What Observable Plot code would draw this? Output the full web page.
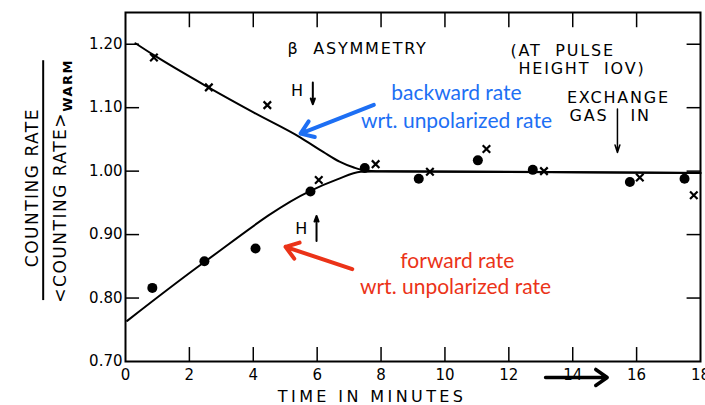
<!DOCTYPE html>
<html><head><meta charset="utf-8">
<script src="https://cdn.jsdelivr.net/npm/d3@7"></script>
<script src="https://cdn.jsdelivr.net/npm/@observablehq/plot@0.6"></script>
<style>
html,body{margin:0;padding:0;background:#fff;}
g[aria-description="lettering"] text{letter-spacing:1.8px;white-space:pre;}
g[aria-description="xtitle"] text{letter-spacing:3.4px;white-space:pre;}
g[aria-description="ytitle"] text{letter-spacing:1.5px;white-space:pre;}
</style>
</head><body><div id="chart"></div>
<script>
// ---- data ----
const xTicks = [0, 2, 4, 6, 8, 10, 12, 14, 16, 18];
const yTicks = [0.70, 0.80, 0.90, 1.00, 1.10, 1.20];

// backward rate points (x markers)
const backwardTime = [0.89, 2.61, 4.44, 6.05, 7.83, 9.53, 11.30, 13.10, 16.10, 17.79];
const backwardRate = [1.179, 1.132, 1.104, 0.986, 1.011, 0.999, 1.035, 1.000, 0.990, 0.962];

// forward rate points (filled dots)
const forwardTime = [0.84, 2.47, 4.07, 5.79, 7.49, 9.18, 11.03, 12.75, 15.79, 17.50];
const forwardRate = [0.816, 0.858, 0.878, 0.968, 1.005, 0.988, 1.017, 1.002, 0.983, 0.988];

// hand-drawn curves
const backwardCurveTime = [0.31, 0.89, 2.61, 4.02, 5.48, 6.2, 6.7, 7.15, 7.57, 8.2, 18];
const backwardCurveRate = [1.2016, 1.1827, 1.1316, 1.0922, 1.0529, 1.030, 1.015, 1.0057, 1.0005, 0.9995, 0.997];
const forwardCurveTime = [0.05, 2.45, 5.79, 6.63, 7.36, 8.19, 18];
const forwardCurveRate = [0.764, 0.856, 0.969, 0.987, 0.999, 1.0, 0.997];

// annotations (data units)
const letteringText = ["β  ASYMMETRY", "(AT  PULSE", "HEIGHT  IOV)", "EXCHANGE", "GAS", "IN", "H", "H"];
const letteringX = [5.07, 12.05, 12.30, 15.43, 15.12, 15.81, 5.40, 5.53];
const letteringY = [1.1926, 1.189, 1.161, 1.1153, 1.087, 1.087, 1.1264, 0.9086];
const letteringAnchor = ["start", "start", "start", "middle", "end", "start", "middle", "middle"];

const blueText = ["backward rate", "wrt. unpolarized rate"];
const blueX = [10.36, 10.36];
const blueY = [1.1222, 1.0792];
const redText = ["forward rate", "wrt. unpolarized rate"];
const redX = [10.39, 10.33];
const redY = [0.8586, 0.8166];

const blue = "#1d6ff4";
const red = "#eb3318";

const zip = (xs, ys) => xs.map((x, i) => ({x, y: ys[i]}));
const backwardPts = zip(backwardTime, backwardRate);
const forwardPts = zip(forwardTime, forwardRate);
const backwardCurve = zip(backwardCurveTime, backwardCurveRate);
const forwardCurve = zip(forwardCurveTime, forwardCurveRate);
const lettering = letteringText.map((t, i) => ({t, x: letteringX[i], y: letteringY[i], a: letteringAnchor[i]}));
const blueLabels = blueText.map((t, i) => ({t, x: blueX[i], y: blueY[i]}));
const redLabels = redText.map((t, i) => ({t, x: redX[i], y: redY[i]}));
const innerX = xTicks.slice(1, -1);
const innerY = yTicks.slice(1);

const letteringMark = (anchor) => Plot.text(lettering.filter(d => d.a === anchor),
  {x: "x", y: "y", text: "t", textAnchor: anchor, fontSize: 16, fill: "black", ariaDescription: "lettering"});
const arrowOpts = {x1: "x1", y1: "y1", x2: "x2", y2: "y2"};

const chart = Plot.plot({
  width: 705, height: 405,
  marginLeft: 125, marginRight: 5, marginTop: 12, marginBottom: 44,
  x: {domain: [0, 18], label: null},
  y: {domain: [0.70, 1.25], label: null},
  style: {fontFamily: "DejaVu Sans", fontSize: "15px", background: "white", color: "black"},
  marks: [
    Plot.frame({stroke: "black", strokeWidth: 2}),
    // inward ticks
    Plot.ruleX(innerX, {x: d => d, y1: 0.70, y2: 0.722, strokeWidth: 1.5}),
    Plot.ruleX(innerX, {x: d => d, y1: 1.25, y2: 1.226, strokeWidth: 1.5}),
    Plot.ruleY(innerY, {y: d => d, x1: 0, x2: 0.44, strokeWidth: 1.5}),
    Plot.ruleY(innerY, {y: d => d, x1: 18, x2: 17.58, strokeWidth: 1.5}),
    Plot.axisX(xTicks, {anchor: "bottom", tickSize: 0, tickPadding: 8, label: null, fontSize: 15}),
    Plot.axisY(yTicks, {anchor: "left", tickSize: 0, tickPadding: 3, label: null, tickFormat: d3.format(".2f"), fontSize: 15}),
    // curves
    Plot.line(backwardCurve, {x: "x", y: "y", curve: "monotone-x", stroke: "black", strokeWidth: 2}),
    Plot.line(forwardCurve, {x: "x", y: "y", curve: "monotone-x", stroke: "black", strokeWidth: 2}),
    // points
    Plot.dot(forwardPts, {x: "x", y: "y", r: 5, fill: "black"}),
    Plot.dot(backwardPts, {x: "x", y: "y", r: 3.5, symbol: "times", stroke: "black", strokeWidth: 2.2}),
    // black lettering
    letteringMark("start"),
    letteringMark("middle"),
    letteringMark("end"),
    // H arrows and exchange gas arrow
    Plot.arrow([{x1: 5.864, y1: 1.1395, x2: 5.864, y2: 1.1055}], {...arrowOpts, stroke: "black", strokeWidth: 2, headLength: 4.5, headAngle: 40}),
    Plot.arrow([{x1: 5.98, y1: 0.890, x2: 5.98, y2: 0.9294}], {...arrowOpts, stroke: "black", strokeWidth: 2, headLength: 4.5, headAngle: 40}),
    Plot.arrow([{x1: 15.4, y1: 1.098, x2: 15.4, y2: 1.0293}], {...arrowOpts, stroke: "black", strokeWidth: 1.5, headLength: 8, headAngle: 35}),
    // arrow through "14"
    Plot.arrow([{x1: 13.15, y1: 0.6748, x2: 15.08, y2: 0.6748}], {...arrowOpts, stroke: "black", strokeWidth: 3.5, headLength: 6, headAngle: 70}),
    // axis titles
    Plot.text(["TIME IN MINUTES"], {x: 7.72, y: 0.644, text: d => d, fontSize: 16, ariaDescription: "xtitle"}),
    Plot.text(["COUNTING RATE"], {x: -2.92, y: 0.974, text: d => d, rotate: -90, fontSize: 17, ariaDescription: "ytitle"}),
    Plot.ruleX([-2.577], {x: d => d, y1: 0.796, y2: 1.174, strokeWidth: 2}),
    Plot.text(["<COUNTING RATE>"], {x: -2.035, y: 0.943, text: d => d, rotate: -90, fontSize: 17, ariaDescription: "ytitle"}),
    Plot.text(["WARM"], {x: -1.79, y: 1.135, text: d => d, rotate: -90, fontSize: 13, fontWeight: "bold", ariaDescription: "ytitle"}),
    // coloured annotations
    Plot.text(blueLabels, {x: "x", y: "y", text: "t", fill: blue, fontFamily: "Lato", fontSize: 21}),
    Plot.arrow([{x1: 7.774, y1: 1.1044, x2: 5.479, y2: 1.0592}], {...arrowOpts, stroke: blue, strokeWidth: 4, headLength: 5.5, headAngle: 70}),
    Plot.text(redLabels, {x: "x", y: "y", text: "t", fill: red, fontFamily: "Lato", fontSize: 21}),
    Plot.arrow([{x1: 7.098, y1: 0.8456, x2: 5.009, y2: 0.8807}], {...arrowOpts, stroke: red, strokeWidth: 4, headLength: 5.5, headAngle: 70})
  ]
});
document.getElementById("chart").appendChild(chart);
</script>
</body></html>
